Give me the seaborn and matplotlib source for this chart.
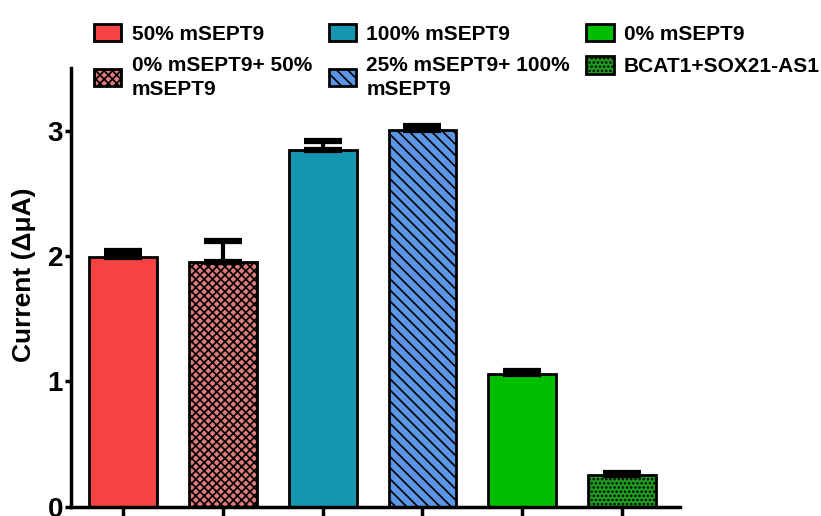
import numpy as np
import pandas as pd
import matplotlib
matplotlib.use("Agg")
import matplotlib.pyplot as plt
import seaborn as sns
from matplotlib.patches import Patch

labels = ["50% mSEPT9", "0% mSEPT9+ 50%\nmSEPT9", "100% mSEPT9",
          "25% mSEPT9+ 100%\nmSEPT9", "0% mSEPT9", "BCAT1+SOX21-AS1"]
means = [1.99, 1.95, 2.85, 3.01, 1.06, 0.25]
errs = [0.05, 0.17, 0.07, 0.03, 0.02, 0.02]
colors = ["#F54343", "#E07A7A", "#1496B0", "#5B95E6", "#00BE00", "#1F9E1F"]
hatches = [None, "xxxx", None, "\\\\\\", None, "...."]

sns.set_style("ticks")
plt.rcParams["font.family"] = ["Liberation Sans", "DejaVu Sans"]
plt.rcParams["font.weight"] = "bold"
plt.rcParams["hatch.linewidth"] = 1.2
plt.rcParams["text.color"] = "black"
plt.rcParams["axes.labelcolor"] = "black"
plt.rcParams["xtick.color"] = "black"
plt.rcParams["ytick.color"] = "black"
plt.rcParams["axes.edgecolor"] = "black"

df = pd.DataFrame({"group": labels, "current": means})

fig = plt.figure(figsize=(8.21, 5.16), dpi=100)
ax = fig.add_axes([0.087, 0.018, 0.741, 0.85])
sns.barplot(data=df, x="group", y="current", hue="group", palette=colors,
            saturation=1, width=0.68, edgecolor="black", linewidth=2,
            legend=False, ax=ax)

for p, h in zip(ax.patches, hatches):
    if h:
        p.set_hatch(h)

ax.errorbar(range(len(means)), means, yerr=[np.zeros(len(errs)), errs],
            fmt="none", ecolor="black", elinewidth=3, capsize=14, capthick=4.5)

ax.set_xlim(-0.52, 5.58)
ax.set_ylim(0, 3.5)
ax.set_yticks([0, 1, 2, 3])
ax.set_xticks(range(len(means)))
ax.set_xticklabels([])
ax.tick_params(axis="x", width=2.5, length=9)
ax.tick_params(axis="y", width=2.5, length=4, labelsize=20, pad=2)
ax.set_xlabel("")
ax.set_ylabel("Current (\u0394\u03bcA)", fontsize=19, fontweight="bold")
ax.yaxis.set_label_coords(-0.058, 0.53)
for s in ["left", "bottom"]:
    ax.spines[s].set_linewidth(2.5)
sns.despine(ax=ax)

handles = [Patch(facecolor=c, edgecolor="black", linewidth=2, hatch=h)
           for c, h in zip(colors, hatches)]
leg = fig.legend(handles, labels, ncol=3, loc="upper left",
                 bbox_to_anchor=(0.092, 0.99), frameon=False,
                 prop={"size": 15, "weight": "bold"}, handlelength=1.3,
                 handleheight=0.9, handletextpad=0.5, columnspacing=0.8,
                 labelspacing=0.6)
for t in leg.get_texts():
    t.set_linespacing(1.3)

fig.savefig("out.png", dpi=100)
